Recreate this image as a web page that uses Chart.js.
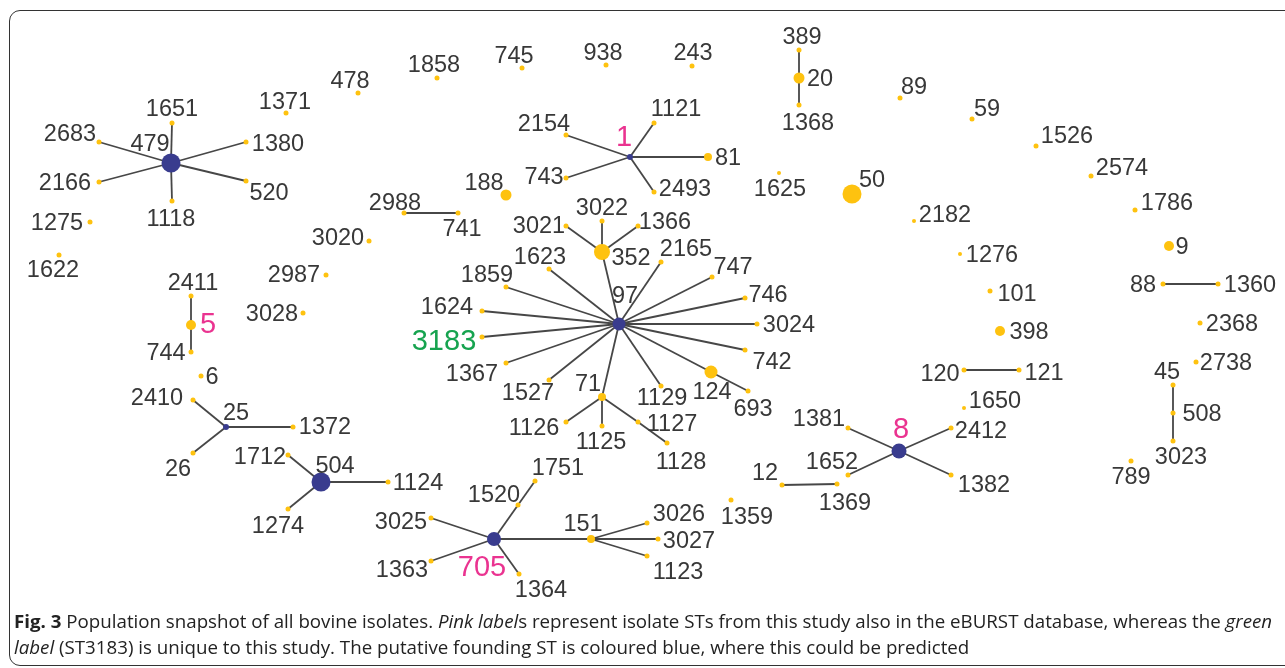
<!DOCTYPE html>
<html>
<head>
<meta charset="utf-8">
<script src="https://cdn.jsdelivr.net/npm/chart.js@4.4.1/dist/chart.umd.min.js"></script>
<style>
  html, body { margin: 0; padding: 0; background: #fff; }
  body { width: 1285px; height: 668px; position: relative; overflow: hidden; }
  #frame {
    position: absolute; left: 9px; top: 10px; width: 1300px; height: 656px;
    border: 1.5px solid #333; border-radius: 11px; box-sizing: border-box;
  }
  #snapshot { position: absolute; left: 0; top: 0; }
  .caption {
    position: absolute; left: 14px; white-space: nowrap;
    font-family: "Open Sans", sans-serif; font-size: 18.6px; line-height: 26px;
    color: #222; transform-origin: 0 50%;
  }
  .caption b { font-weight: 700; }
  #cap1 { top: 608px; }
  #cap2 { top: 634px; }
</style>
</head>
<body>
<div id="frame"></div>
<canvas id="snapshot" width="1285" height="668"></canvas>
<div class="caption" id="cap1"><b>Fig. 3</b> Population snapshot of all bovine isolates. <i>Pink label</i>s represent isolate STs from this study also in the eBURST database, whereas the <i>green</i></div>
<div class="caption" id="cap2"><i>label</i> (ST3183) is unique to this study. The putative founding ST is coloured blue, where this could be predicted</div>
<script>
// sequence types and where eBURST placed them
const stIds = [
  '479', '1651', '2683', '1380', '2166', '520', '1118', '1371', '478', '1275', '1622',
  '2988', '741', '3020', '2987', '1858', '745', '938', '243', '389', '20', '1368',
  '1', '1121', '2154', '81', '743', '2493', '1625', '188',
  '352', '3021', '3022', '1366',
  '97', '1623', '1859', '2165', '747', '1624', '746', '3183', '3024', '742', '1367', '1527',
  '71', '1129', '124', '693', '1126', '1125', '1127', '1128',
  '705', '1520', '1751', '3025', '1363', '1364', '151', '3026', '3027', '1123', '1359',
  '12', '1369', '8', '1381', '2412', '1652', '1382', '1650', '120', '121',
  '89', '59', '1526', '2574', '1786', '9', '88', '1360', '50', '2182', '1276', '101', '398',
  '2368', '2738', '45', '508', '3023', '789',
  '2411', '5', '744', '3028', '6', '2410', '25', '1372', '26', '1712', '504', '1124', '1274'
];
const posX = [
  171, 172, 99, 246, 99, 246, 172, 286, 358, 90, 59,
  404, 458, 369, 326, 437, 522, 606, 692, 799, 799, 799,
  630, 654, 566, 708, 566, 654, 779, 506,
  602, 566, 602, 638,
  619, 549, 506, 661, 712, 482, 745, 482, 757, 745, 506, 549,
  602, 661, 711, 748, 566, 602, 638, 667,
  494, 518, 535, 431, 431, 519, 591, 647, 658, 647, 731,
  782, 837, 899, 848, 951, 848, 951, 964, 964, 1019,
  900, 972, 1036, 1091, 1135, 1169, 1163, 1218, 852, 914, 960, 990, 1000,
  1200, 1196, 1173, 1173, 1173, 1131,
  191, 191, 191, 303, 201, 193, 226, 293, 193, 288, 321, 388, 288
];
const posY = [
  163, 123, 142, 142, 182, 181, 201, 113, 93, 222, 255,
  213, 213, 241, 275, 78, 68, 65, 66, 50, 78, 105,
  157, 123, 135, 157, 178, 192, 173, 195,
  252, 226, 221, 226,
  324, 269, 287, 262, 277, 311, 298, 337, 324, 350, 363, 380,
  397, 386, 372, 391, 422, 426, 422, 443,
  539, 505, 481, 518, 561, 574, 539, 523, 539, 556, 500,
  485, 484, 451, 428, 428, 475, 475, 408, 370, 370,
  98, 119, 146, 176, 210, 246, 284, 284, 194, 221, 254, 291, 331,
  323, 362, 385, 413, 441, 461,
  296, 325, 352, 313, 376, 400, 427, 427, 453, 455, 482, 482, 509
];
// node radius grows with the number of isolates of that ST
const nodeRadius = [
  9.5, 2.5, 2.5, 2.5, 2.5, 2.5, 2.5, 2.5, 2.5, 2.5, 2.5,
  2.5, 2.5, 2.5, 2.5, 2.5, 2.5, 2.5, 2.5, 2.5, 5.5, 2.5,
  3, 2.5, 2.5, 4, 2.5, 2.5, 2, 5.5,
  8, 2.5, 2.5, 2.5,
  6.5, 2.5, 2.5, 2.5, 2.5, 2.5, 2.5, 2.5, 2.5, 2.5, 2.5, 2.5,
  4, 2.5, 6.5, 2.5, 2.5, 2.5, 2.5, 2.5,
  7, 2.5, 2.5, 2.5, 2.5, 2.5, 4, 2.5, 2.5, 2.5, 2.5,
  2.5, 2.5, 7.5, 2.5, 2.5, 2.5, 2.5, 2, 2.5, 2.5,
  2.5, 2.5, 2.5, 2.5, 2.5, 5, 2.5, 2.5, 9.5, 2, 2, 2.5, 5,
  2.5, 2.5, 2.5, 2.5, 2.5, 2.5,
  2.5, 5, 2.5, 2.5, 2.5, 2.5, 3, 2.5, 2.5, 2.5, 9.5, 2.5, 2.5
];
// where each number sits relative to its node (centre of the text)
const labelOffset = [
  [-21, -20], [0, -15], [-29, -9], [32, 1], [-34, 0], [23, 11], [-1, 17], [-1, -12], [-8, -13], [-33, 0], [-6, 14],
  [-9, -11], [4, 15], [-31, -4], [-32, -1], [-3, -14], [-8, -13], [-3, -13], [1, -14], [3, -14], [21, 0], [9, 17],
  [-6, -21], [22, -15], [-22, -12], [20, 0], [-22, -2], [31, -4], [1, 15], [-22, -13],
  [29, 5], [-27, -1], [0, -14], [27, -5],
  [6, -29], [-9, -13], [-19, -13], [25, -14], [21, -11], [-35, -5], [23, -4], [-38, 3], [32, 0], [27, 11], [-34, 10], [-21, 12],
  [-14, -14], [1, 11], [1, 19], [5, 17], [-32, 5], [-1, 15], [34, 1], [14, 18],
  [-12, 27], [-24, -11], [23, -14], [-30, 3], [-29, 8], [22, 15], [-8, -16], [32, -10], [31, 1], [31, 15], [16, 16],
  [-17, -13], [8, 18], [2, -23], [-29, -10], [30, 2], [-16, -14], [33, 9], [31, -8], [-24, 3], [25, 2],
  [14, -12], [15, -11], [31, -11], [31, -9], [32, -8], [13, 0], [-20, 0], [32, 0], [20, -15], [31, -7], [32, 0], [27, 2], [29, 0],
  [32, 0], [30, 0], [-6, -14], [29, 0], [8, 15], [0, 15],
  [2, -14], [17, -2], [-25, 0], [-31, 0], [11, 0], [-36, -3], [10, -15], [32, -1], [-15, 15], [-28, 1], [14, -17], [30, 0], [-10, 16]
];

const founderSTs = ['479', '1', '97', '705', '8', '25', '504'];
const pinkSTs = ['1', '5', '8', '705'];
const greenSTs = ['3183'];

// single locus variant links
const links = [
  ['479', '1651'], ['479', '2683'], ['479', '1380'], ['479', '2166'], ['479', '520'], ['479', '1118'],
  ['20', '389'], ['20', '1368'], ['2988', '741'],
  ['1', '1121'], ['1', '2154'], ['1', '81'], ['1', '743'], ['1', '2493'],
  ['352', '3021'], ['352', '3022'], ['352', '1366'],
  ['97', '352'], ['97', '1623'], ['97', '1859'], ['97', '2165'], ['97', '747'], ['97', '1624'], ['97', '746'],
  ['97', '3183'], ['97', '3024'], ['97', '742'], ['97', '1367'], ['97', '1527'], ['97', '71'], ['97', '1129'], ['97', '124'],
  ['124', '693'], ['71', '1126'], ['71', '1125'], ['71', '1127'], ['1127', '1128'],
  ['5', '2411'], ['5', '744'], ['25', '2410'], ['25', '1372'], ['25', '26'],
  ['504', '1712'], ['504', '1124'], ['504', '1274'],
  ['705', '1520'], ['1520', '1751'], ['705', '3025'], ['705', '1363'], ['705', '1364'], ['705', '151'],
  ['151', '3026'], ['151', '3027'], ['151', '1123'],
  ['8', '1381'], ['8', '2412'], ['8', '1652'], ['8', '1382'],
  ['12', '1369'], ['120', '121'], ['88', '1360'], ['45', '508'], ['508', '3023']
];

const BLUE = '#393c8e';
const YELLOW = '#fec20f';

const nodePoints = stIds.map((st, i) => ({ x: posX[i], y: posY[i] }));
const pointOf = st => nodePoints[stIds.indexOf(st)];

const linkSets = links.map(([a, b]) => ({
  data: [pointOf(a), pointOf(b)],
  showLine: true,
  borderColor: '#474747',
  borderWidth: 1.8,
  pointRadius: 0,
  order: 2
}));

// numbers next to every node, coloured like in the eBURST output
const stLabels = {
  id: 'stLabels',
  afterDatasetsDraw(chart) {
    const ctx = chart.ctx;
    const meta = chart.getDatasetMeta(0);
    ctx.save();
    ctx.textAlign = 'center';
    ctx.textBaseline = 'alphabetic';
    stIds.forEach((st, i) => {
      const p = meta.data[i];
      let size = 23.5, color = '#383838';
      if (pinkSTs.includes(st)) { size = 29; color = '#ea3390'; }
      if (greenSTs.includes(st)) { size = 29; color = '#16a34f'; }
      ctx.font = size + 'px "Liberation Sans", Arial, sans-serif';
      ctx.fillStyle = color;
      ctx.fillText(st, p.x + labelOffset[i][0], p.y + labelOffset[i][1] + size * 0.36);
    });
    ctx.restore();
  }
};

new Chart(document.getElementById('snapshot'), {
  type: 'scatter',
  data: {
    datasets: [{
      data: nodePoints,
      pointRadius: c => nodeRadius[c.dataIndex],
      pointBackgroundColor: c => founderSTs.includes(stIds[c.dataIndex]) ? BLUE : YELLOW,
      pointBorderWidth: 0,
      order: 1
    }].concat(linkSets)
  },
  options: {
    responsive: false,
    animation: false,
    events: [],
    layout: { padding: 0, autoPadding: false },
    scales: {
      x: { type: 'linear', min: 0, max: 1285, display: false },
      y: { type: 'linear', min: 0, max: 668, reverse: true, display: false }
    },
    plugins: { legend: { display: false }, tooltip: { enabled: false } }
  },
  plugins: [stLabels]
});

// caption: fit the first line to the frame width, second line uses the same scale
const cap1 = document.getElementById('cap1');
const cap2 = document.getElementById('cap2');
const squeeze = 1258 / cap1.offsetWidth;
cap1.style.transform = 'scaleX(' + squeeze + ')';
cap2.style.transform = 'scaleX(' + squeeze + ')';
</script>
</body>
</html>
